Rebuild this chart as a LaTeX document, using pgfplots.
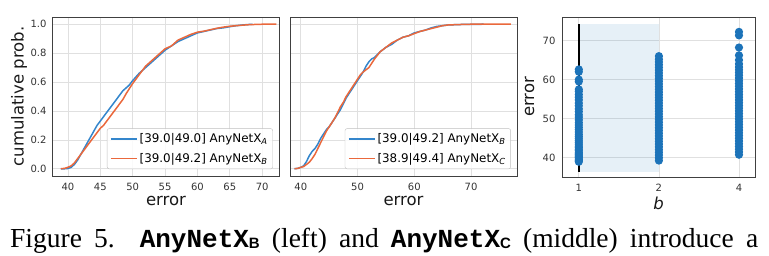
\documentclass[border=0pt]{standalone}
\usepackage{pgfplots}
\pgfplotsset{compat=1.18}
\usepackage{fontspec}
\setmainfont{DejaVu Sans}
\newfontfamily\capfont{Liberation Serif}
\newfontfamily\capmono{Liberation Mono}
\newfontfamily\capsans{Liberation Sans}
\definecolor{cblue}{RGB}{52,134,204}
\definecolor{corange}{RGB}{234,104,60}
\definecolor{scat}{RGB}{28,115,185}
\definecolor{shade}{RGB}{31,119,180}
\pgfplotsset{
  myaxis/.style={
    scale only axis,
    axis line style={draw=black!75, line width=1pt},
    grid=major, grid style={black!12, line width=0.7pt},
    major tick length=0pt,
    tick label style={font=\fontsize{10}{12}\selectfont, text=black!80},
    xticklabel style={yshift=-4pt},
    yticklabel style={xshift=-3pt},
    label style={font=\fontsize{16.5}{18}\selectfont, text=black!90},
    /pgf/number format/assume math mode=true,
    xlabel style={at={(axis description cs:0.5,-0.157)}, anchor=center},
    every axis plot/.append style={line width=1.5pt},
    legend style={font=\fontsize{11.9}{14}\selectfont, at={(0.973,0.044)}, anchor=south east,
      draw=black!25, rounded corners=2pt, fill=white, fill opacity=0.85, text opacity=1,
      row sep=5pt, inner xsep=3pt, inner ysep=3pt},
    legend cell align=left,
    legend image code/.code={\draw[#1] (0pt,0pt) -- (26pt,0pt);},
  },
  cdfaxis/.style={
    myaxis, width=226pt, height=159pt,
    ymin=-0.05, ymax=1.05,
    ytick={0,0.2,0.4,0.6,0.8,1.0},
    yticklabel style={/pgf/number format/.cd, fixed, fixed zerofill, precision=1},
    xtick={40,45,50,55,60,65,70,75},
    xlabel={error},
  }
}
\newcommand{\capsub}[1]{\raisebox{-1.5pt}{\fontsize{15}{15}\selectfont\capsans\bfseries #1}}
\begin{document}
\begin{tikzpicture}
\useasboundingbox (0,0) rectangle (769pt,255pt);
% left
\begin{axis}[cdfaxis, at={(53pt,79pt)}, anchor=south west,
  xmin=37.7, xmax=72.6, ylabel={cumulative prob.},
  ylabel style={at={(axis description cs:-0.150,0.5)}, anchor=center}]
\addplot[cblue] coordinates {(38.9,0) (39.5,0) (40,0.002) (40.5,0.01) (41,0.03) (41.5,0.06) (42,0.1) (42.5,0.14) (43,0.18) (43.5,0.22) (44,0.26) (44.5,0.3) (45,0.33) (45.5,0.36) (46,0.39) (46.5,0.42) (47,0.45) (47.5,0.48) (48,0.51) (48.5,0.54) (49,0.56) (49.5,0.58) (50,0.61) (51,0.66) (52,0.70) (53,0.74) (54,0.78) (55,0.82) (56,0.85) (57,0.88) (58,0.90) (59,0.92) (60,0.94) (61,0.95) (62,0.96) (63,0.97) (64,0.975) (65,0.983) (66,0.99) (67,0.995) (68.5,1.0)};
\addlegendentry{[39.0|49.0] AnyNetX\textsubscript{\itshape A}}
\addplot[corange] coordinates {(38.9,0) (39.5,0.003) (40,0.01) (40.5,0.02) (41,0.04) (41.5,0.07) (42,0.1) (42.5,0.13) (43,0.16) (43.5,0.19) (44,0.22) (44.5,0.25) (45,0.28) (45.5,0.3) (46,0.33) (46.5,0.36) (47,0.39) (47.5,0.42) (48,0.45) (48.5,0.48) (49,0.52) (49.5,0.555) (50,0.59) (51,0.65) (52,0.71) (53,0.75) (54,0.79) (55,0.83) (56,0.85) (57,0.89) (58,0.91) (59,0.93) (60,0.945) (61,0.952) (62,0.962) (63,0.972) (64,0.98) (65,0.986) (66,0.99) (68,0.997) (70,1.0) (72.2,1.0)};
\addlegendentry{[39.0|49.2] AnyNetX\textsubscript{\itshape B}}
\end{axis}
% middle
\begin{axis}[cdfaxis, at={(290pt,79pt)}, anchor=south west, width=227pt,
  xmin=38.1, xmax=78.1, xtick={40,50,60,70}, yticklabels={}]
\addplot[cblue] coordinates {(38.9,0) (39.5,0.003) (40,0.01) (40.5,0.02) (41,0.05) (41.5,0.09) (42,0.12) (42.5,0.14) (43,0.17) (43.5,0.21) (44,0.24) (44.5,0.27) (45,0.29) (45.5,0.32) (46,0.35) (46.5,0.38) (47,0.41) (47.5,0.45) (48,0.49) (48.5,0.52) (49,0.55) (49.5,0.58) (50,0.61) (50.5,0.64) (51,0.67) (51.5,0.71) (52,0.74) (52.5,0.76) (53,0.77) (54,0.81) (55,0.84) (56,0.86) (57,0.89) (58,0.91) (59,0.92) (60,0.94) (61,0.95) (62,0.96) (63,0.975) (64,0.985) (65,0.99) (66,0.995) (68,0.998) (72.2,1.0)};
\addlegendentry{[39.0|49.2] AnyNetX\textsubscript{\itshape B}}
\addplot[corange] coordinates {(38.9,0) (39.5,0.003) (40,0.01) (40.5,0.015) (41,0.03) (41.5,0.045) (42,0.07) (42.5,0.1) (43,0.14) (43.5,0.18) (44,0.22) (44.5,0.26) (45,0.29) (45.5,0.32) (46,0.35) (46.5,0.39) (47,0.43) (47.5,0.46) (48,0.5) (48.5,0.53) (49,0.56) (49.5,0.59) (50,0.62) (50.5,0.65) (51,0.67) (51.5,0.685) (52,0.7) (52.5,0.73) (53,0.76) (54,0.81) (55,0.84) (56,0.87) (57,0.89) (58,0.91) (59,0.92) (60,0.935) (61,0.95) (62,0.96) (63,0.97) (64,0.98) (65,0.99) (66,0.995) (68,0.998) (70,1.0) (77,1.0)};
\addlegendentry{[38.9|49.4] AnyNetX\textsubscript{\itshape C}}
\end{axis}
% right
\begin{axis}[myaxis, at={(562pt,78pt)}, anchor=south west, width=193pt, height=160pt,
  xmin=-0.21, xmax=2.2, ymin=35.1, ymax=76,
  xtick={0,1,2}, xticklabels={1,2,4}, ytick={40,50,60,70},
  xlabel={\itshape b}, ylabel={error},
  xlabel style={at={(axis description cs:0.5,-0.165)}},
  ylabel style={at={(axis description cs:-0.168,0.5)}, anchor=center}]
\addplot[draw=none, fill=shade, fill opacity=0.11] coordinates {(0,36.5) (1,36.5) (1,74.2) (0,74.2)} -- cycle;
\addplot[only marks, mark=*, mark size=3.3pt, scat, mark options={fill=scat, draw=scat}] coordinates {
(0,39) (0,39.3) (0,39.6) (0,40) (0,40.3) (0,40.7) (0,41) (0,41.4) (0,41.8) (0,42.2) (0,42.6) (0,43) (0,43.5) (0,44) (0,44.5) (0,45) (0,45.5) (0,46) (0,46.6) (0,47.2) (0,47.8) (0,48.4) (0,49) (0,49.7) (0,50.4) (0,51) (0,51.8) (0,52.5) (0,53.3) (0,54) (0,54.8) (0,55.5) (0,56.2) (0,57) (0,57.5) (0,59.5) (0,60) (0,62) (0,62.6)
(1,39.3) (1,40) (1,40.7) (1,41.4) (1,42.1) (1,42.8) (1,43.5) (1,44.2) (1,44.9) (1,45.6) (1,46.3) (1,47) (1,47.7) (1,48.4) (1,49.1) (1,49.8) (1,50.5) (1,51.2) (1,51.9) (1,52.6) (1,53.3) (1,54) (1,54.7) (1,55.4) (1,56.1) (1,56.8) (1,57.5) (1,58.2) (1,58.9) (1,59.6) (1,60.3) (1,61) (1,61.7) (1,62.4) (1,63.1) (1,63.8) (1,64.5) (1,65.2) (1,66)
(2,40.8) (2,41.5) (2,42.2) (2,42.9) (2,43.6) (2,44.3) (2,45) (2,45.7) (2,46.4) (2,47.1) (2,47.8) (2,48.5) (2,49.2) (2,49.9) (2,50.6) (2,51.3) (2,52) (2,52.7) (2,53.4) (2,54.1) (2,54.8) (2,55.5) (2,56.2) (2,56.9) (2,57.6) (2,58.3) (2,59) (2,59.7) (2,60.4) (2,61.1) (2,61.8) (2,62.5) (2,63.2) (2,64) (2,65) (2,66.2) (2,68.2) (2,71.3) (2,72.2)};
\addplot[black, line width=1.4pt] coordinates {(0,36.5) (0,74.2)};
\end{axis}
\node[anchor=base west, inner sep=0pt] at (10pt,8pt) {\fontsize{27.5}{30}\selectfont\capfont\makebox[748pt][s]{Figure 5. {\fontsize{26}{30}\selectfont\capmono\bfseries AnyNetX}\capsub{B} (left) and {\fontsize{26}{30}\selectfont\capmono\bfseries AnyNetX}\capsub{C} (middle) introduce a}};
\end{tikzpicture}
\end{document}
